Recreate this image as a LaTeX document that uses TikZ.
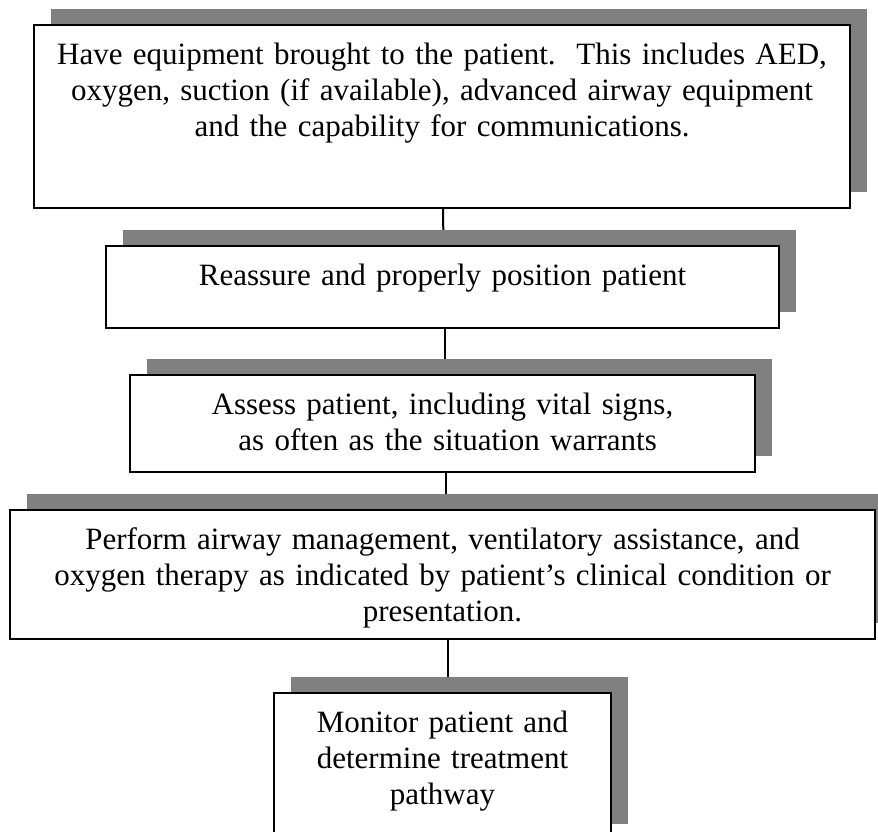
\documentclass[tikz,border=0pt]{standalone}
\usepackage{fontspec}
\setmainfont{Liberation Serif}
\usepackage{tikz}
\usetikzlibrary{shadows, backgrounds, positioning}

\begin{document}
\begin{tikzpicture}[
            x=0.5pt, y=-0.5pt,
            stepbox/.style={draw=black, line width=1pt, fill=white, inner sep=0pt, anchor=north west,
                align=center, text height=19.5pt, font=\fontsize{15.5pt}{18pt}\selectfont,
                drop shadow={shadow xshift=8.5pt, shadow yshift=8pt, fill=gray, opacity=1}},
            link/.style={draw=black, line width=1pt}
        ]
        \useasboundingbox (0,0) rectangle (878,831);
        \clip (0,0) rectangle (878,831);

        % The Boxes
        \node[stepbox, text width=408pt, text depth=72pt] (equip) at (33,24)
            {Have equipment brought to the patient.\ \ This includes AED,\\
             oxygen, suction (if available), advanced airway equipment\\
             and the capability for communications.};
        \node[stepbox, text width=336.5pt, text depth=21.5pt] (reassure) at (105,245)
            {Reassure and properly position patient};
        \node[stepbox, text width=312.5pt, text depth=29pt] (assess) at (129,374)
            {Assess patient, including vital signs,\\
             \ as often as the situation warrants};
        \node[stepbox, text width=432.5pt, text depth=45pt] (airway) at (9,509)
            {Perform airway management, ventilatory assistance, and\\
             oxygen therapy as indicated by patient’s clinical condition or\\
             presentation.};
        \node[stepbox, text width=168.5pt, text depth=54pt] (monitor) at (273,692)
            {Monitor patient and\\
             determine treatment\\
             pathway};

        % Connectors
        \begin{scope}[on background layer]
            \draw[link] ([xshift=0.5pt]equip.south) -- ([xshift=0.5pt]reassure.north);
            \draw[link] ([xshift=1pt]reassure.south) -- ([xshift=1pt]assess.north);
            \draw[link] ([xshift=1.75pt]assess.south) -- ([xshift=1.75pt]airway.north);
            \draw[link] ([xshift=2.5pt]airway.south) -- ([xshift=2.5pt]monitor.north);
        \end{scope}

        \end{tikzpicture}
\end{document}
